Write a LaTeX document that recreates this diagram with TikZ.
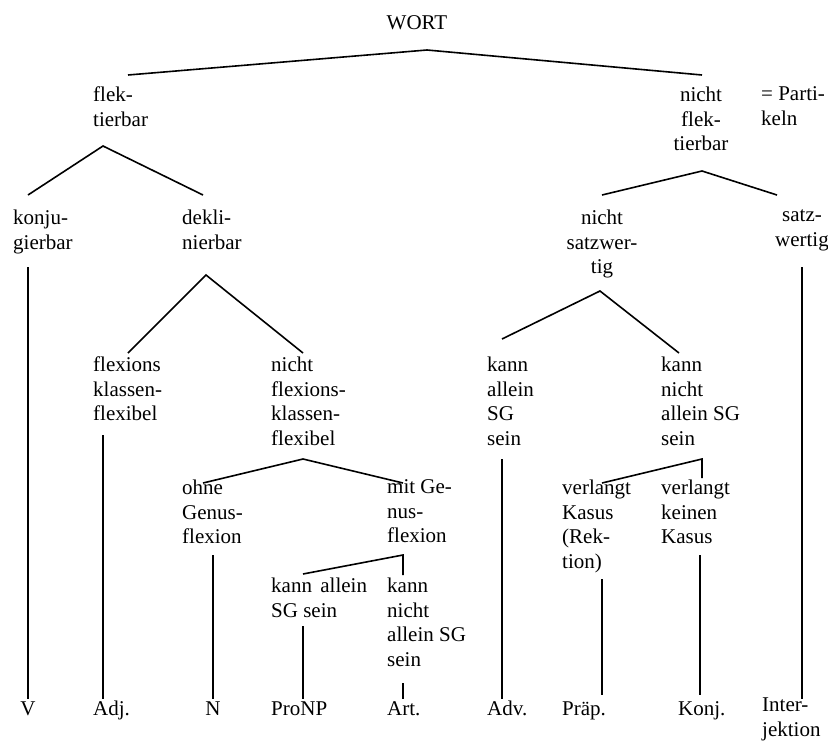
\documentclass[tikz,border=0pt]{standalone}
\usepackage{fontspec}
\setmainfont{Liberation Serif}
\tikzset{
  lbl/.style={anchor=north west, align=left, inner sep=0pt, yshift=17.15pt,
    font=\fontsize{21}{24.5}\selectfont, execute at begin node=\strut},
  clbl/.style={anchor=north, align=center, inner sep=0pt, yshift=17.15pt,
    font=\fontsize{21}{24.5}\selectfont, execute at begin node=\strut},
  branch/.style={line width=1.6pt}
}
\begin{document}
\begin{tikzpicture}[x=1pt, y=-1pt]
\useasboundingbox (0,0) rectangle (828,745);
% labels
\node[clbl] (wort) at (417,29) {WORT};
\node[lbl] (flek) at (93,104) {flek-\\tierbar};
\node[clbl] (nflek) at (701,104) {nicht\\flek-\\tierbar};
\node[lbl] (part) at (761,104) {= Parti-\\keln};
\node[lbl] (konj) at (13,227) {konju-\\gierbar};
\node[lbl] (dekl) at (182,227) {dekli-\\nierbar};
\node[clbl] (nsatz) at (602,227) {nicht\\satzwer-\\tig};
\node[clbl] (satz) at (802,227) {satz-\\wertig};
\node[lbl] (fkf) at (93,374) {flexions\\klassen-\\flexibel};
\node[lbl] (nfkf) at (271,374) {nicht\\flexions-\\klassen-\\flexibel};
\node[lbl] (allein) at (487,374) {kann\\allein\\SG\\sein};
\node[lbl] (nallein) at (661,374) {kann\\nicht\\allein SG\\sein};
\node[lbl] (ohne) at (182,497) {ohne\\Genus-\\flexion};
\node[lbl] (mit) at (387,497) {mit Ge-\\nus-\\flexion};
\node[lbl] (vkasus) at (562,497) {verlangt\\Kasus\\(Rek-\\tion)};
\node[lbl] (vkeinen) at (661,497) {verlangt\\keinen\\Kasus};
\node[lbl] (pallein) at (271,595) {kann\hspace{0.15em} allein\\SG sein};
\node[lbl] (pnallein) at (387,595) {kann\\nicht\\allein SG\\sein};
% word classes
\node[clbl] (v) at (28,715) {V};
\node[lbl] (adj) at (93,715) {Adj.};
\node[clbl] (n) at (213,715) {N};
\node[lbl] (pronp) at (271,715) {ProNP};
\node[lbl] (art) at (387,715) {Art.};
\node[lbl] (adv) at (487,715) {Adv.};
\node[lbl] (praep) at (562,715) {Präp.};
\node[lbl] (konjunk) at (678,715) {Konj.};
\node[lbl] (interj) at (762,715) {Inter-\\jektion};
% branch points
\coordinate (wortT) at (427,50);
\coordinate (wortL) at (128,75);
\coordinate (wortR) at (702,75);
\coordinate (flekT) at (103,146);
\coordinate (flekL) at (28,195);
\coordinate (flekR) at (203,195);
\coordinate (nflekT) at (702,171);
\coordinate (nflekL) at (602,195);
\coordinate (nflekR) at (777,195);
\coordinate (deklT) at (206,275);
\coordinate (deklL) at (128,353);
\coordinate (deklR) at (303,353);
\coordinate (nsatzT) at (600,291);
\coordinate (nsatzL) at (502,339);
\coordinate (nsatzR) at (679,353);
\coordinate (nfkfT) at (303,459);
\coordinate (nfkfL) at (203,483);
\coordinate (nfkfR) at (403,483);
\coordinate (nallT) at (702,459);
\coordinate (nallL) at (602,483);
\coordinate (nallR) at (702,478);
\coordinate (mitT) at (403,555);
\coordinate (mitL) at (303,574);
\coordinate (mitR) at (403,575);
% stems
\coordinate (konjS) at (28,267);
\coordinate (vS) at (28,699);
\coordinate (satzS) at (802,267);
\coordinate (interjS) at (802,699);
\coordinate (fkfS) at (103,435);
\coordinate (adjS) at (103,699);
\coordinate (ohneS) at (213,555);
\coordinate (nS) at (213,699);
\coordinate (palleinS) at (303,626);
\coordinate (pronpS) at (303,699);
\coordinate (pnalleinS) at (403,683);
\coordinate (artS) at (403,699);
\coordinate (alleinS) at (502,459);
\coordinate (advS) at (502,699);
\coordinate (vkasusS) at (602,579);
\coordinate (praepS) at (602,695);
\coordinate (vkeinenS) at (700,555);
\coordinate (konjunkS) at (700,695);
% branches
\draw[branch] (wortL) -- (wortT) -- (wortR);
\draw[branch] (flekL) -- (flekT) -- (flekR);
\draw[branch] (nflekL) -- (nflekT) -- (nflekR);
\draw[branch] (deklL) -- (deklT) -- (deklR);
\draw[branch] (nsatzL) -- (nsatzT) -- (nsatzR);
\draw[branch] (nfkfL) -- (nfkfT) -- (nfkfR);
\draw[branch] (nallL) -- (nallT) -- (nallR);
\draw[branch] (mitL) -- (mitT) -- (mitR);
\draw[branch] (konjS) -- (vS);
\draw[branch] (satzS) -- (interjS);
\draw[branch] (fkfS) -- (adjS);
\draw[branch] (ohneS) -- (nS);
\draw[branch] (palleinS) -- (pronpS);
\draw[branch] (pnalleinS) -- (artS);
\draw[branch] (alleinS) -- (advS);
\draw[branch] (vkasusS) -- (praepS);
\draw[branch] (vkeinenS) -- (konjunkS);
\end{tikzpicture}
\end{document}
